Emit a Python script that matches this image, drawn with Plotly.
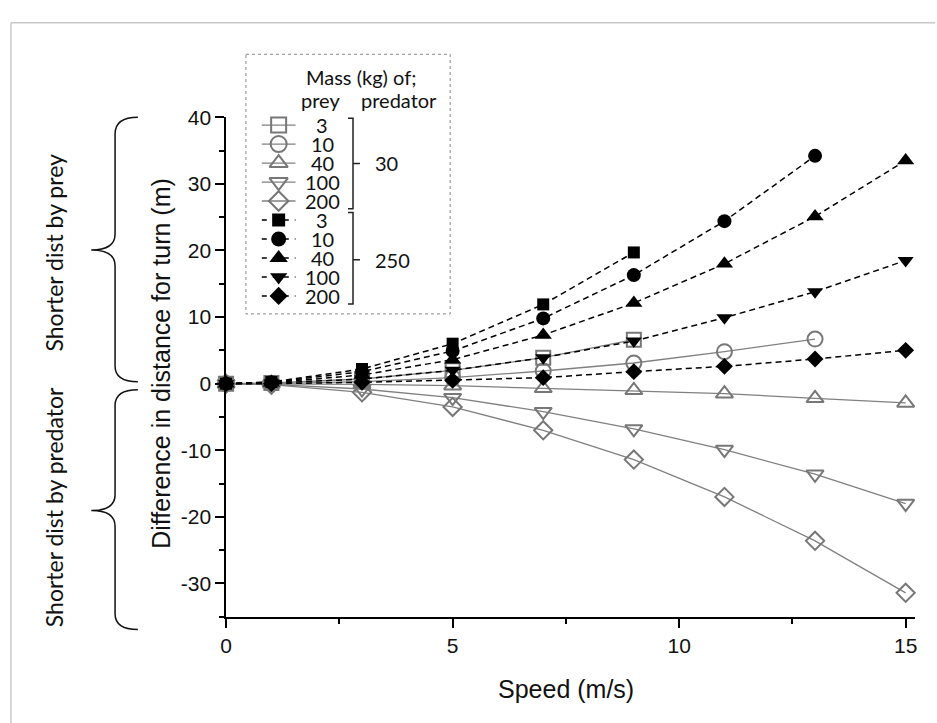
import plotly.graph_objects as go

W, H = 937, 723

# ---------------- data ----------------
speed = [0, 1, 3, 5, 7, 9, 11, 13, 15]
prey_masses = ["3", "10", "40", "100", "200"]
predator_masses = ["30", "250"]

# predator 30 kg (open grey symbols, solid lines)
pred30_prey3 = [0, 0.1, 0.7, 2.0, 3.9, 6.6]
pred30_prey10 = [0, 0.0, 0.3, 0.9, 1.9, 3.1, 4.8, 6.7]
pred30_prey40 = [0, 0.0, -0.1, -0.3, -0.7, -1.0, -1.5, -2.2, -2.9]
pred30_prey100 = [0, -0.1, -0.8, -2.1, -4.2, -6.8, -9.9, -13.6, -18.0]
pred30_prey200 = [0, -0.15, -1.3, -3.5, -7.0, -11.4, -17.0, -23.6, -31.4]

# predator 250 kg (filled black symbols, dashed lines)
pred250_prey3 = [0, 0.25, 2.2, 6.0, 11.9, 19.7]
pred250_prey10 = [0, 0.2, 1.8, 4.9, 9.8, 16.3, 24.4, 34.2]
pred250_prey40 = [0, 0.15, 1.3, 3.6, 7.3, 12.1, 18.0, 25.1, 33.5]
pred250_prey100 = [0, 0.08, 0.7, 2.0, 3.9, 6.4, 9.9, 13.8, 18.5]
pred250_prey200 = [0, 0.0, 0.2, 0.5, 0.9, 1.8, 2.6, 3.7, 5.0]

x_ticks = [0, 5, 10, 15]
x_tick_labels = ["0", "5", "10", "15"]
y_ticks = [-30, -20, -10, 0, 10, 20, 30, 40]
y_tick_labels = ["-30", "-20", "-10", "0", "10", "20", "30", "40"]

# ---------------- styles ----------------
GREY = "#777777"
GREY_LINE = "#808080"
BLACK = "#000000"
open_symbols = ["square-open", "circle-open", "triangle-up-open", "triangle-down-open", "diamond-open"]
open_sizes = [14, 15, 15, 15, 14]
filled_symbols = ["square", "circle", "triangle-up", "triangle-down", "diamond"]
filled_sizes = [12, 14, 15, 14, 13]
DASH = "6px,4px"
LEG_FONT = dict(family="Lato", size=20, color="#111")
SIDE_FONT = dict(family="Lato", size=23, color="#111")
TITLE_FONT = dict(family="Liberation Sans", size=25, color="#111")

series30 = [pred30_prey3, pred30_prey10, pred30_prey40, pred30_prey100, pred30_prey200]
series250 = [pred250_prey3, pred250_prey10, pred250_prey40, pred250_prey100, pred250_prey200]

fig = go.Figure()

for vals, sym, sz, m in zip(series30, open_symbols, open_sizes, prey_masses):
    fig.add_trace(go.Scatter(
        x=speed[:len(vals)], y=vals, mode="lines+markers",
        name=f"prey {m} kg, predator 30 kg",
        line=dict(color=GREY_LINE, width=1.3),
        marker=dict(symbol=sym, size=sz, color=GREY, line=dict(color=GREY, width=2)),
        cliponaxis=False, showlegend=False, xaxis="x", yaxis="y"))

for vals, sym, sz, m in zip(series250, filled_symbols, filled_sizes, prey_masses):
    fig.add_trace(go.Scatter(
        x=speed[:len(vals)], y=vals, mode="lines+markers",
        name=f"prey {m} kg, predator 250 kg",
        line=dict(color=BLACK, width=1.5, dash=DASH),
        marker=dict(symbol=sym, size=sz, color=BLACK, line=dict(width=0)),
        cliponaxis=False, showlegend=False, xaxis="x", yaxis="y"))

# ---------------- legend (drawn in a pixel-coordinate overlay axis) ----------------
row0, drow = 115, 19.3
legend_syms = open_symbols + filled_symbols
legend_sizes = open_sizes + filled_sizes
legend_labels = prey_masses + prey_masses
annotations = []
for i, (sym, sz, lab) in enumerate(zip(legend_syms, legend_sizes, legend_labels)):
    ry = row0 + drow * i
    is_open = i < 5
    fig.add_trace(go.Scatter(
        x=[258, 275, 292], y=[ry, ry, ry], mode="lines+markers",
        line=dict(color=GREY_LINE if is_open else BLACK, width=1.3 if is_open else 1.5,
                  dash="solid" if is_open else "5px,6px"),
        marker=dict(symbol=sym, size=sz + 1, opacity=[0, 1, 0],
                    color=GREY if is_open else BLACK,
                    line=dict(color=GREY, width=2 if is_open else 0)),
        showlegend=False, hoverinfo="skip", xaxis="x3", yaxis="y3"))
    annotations.append(dict(x=319, y=ry, xref="x3", yref="y3", text=lab, showarrow=False,
                            font=LEG_FONT, xanchor="center", yanchor="middle"))

annotations += [
    dict(x=358, y=66, xref="x3", yref="y3", text="Mass (kg) of;", showarrow=False,
         font=LEG_FONT, xanchor="center", yanchor="middle"),
    dict(x=317, y=89, xref="x3", yref="y3", text="prey", showarrow=False,
         font=LEG_FONT, xanchor="center", yanchor="middle"),
    dict(x=396, y=89, xref="x3", yref="y3", text="predator", showarrow=False,
         font=LEG_FONT, xanchor="center", yanchor="middle"),
    dict(x=384, y=154, xref="x3", yref="y3", text=predator_masses[0], showarrow=False,
         font=LEG_FONT, xanchor="center", yanchor="middle"),
    dict(x=390, y=252, xref="x3", yref="y3", text=predator_masses[1], showarrow=False,
         font=LEG_FONT, xanchor="center", yanchor="middle"),
    # axis titles
    dict(x=565, y=688, xref="x3", yref="y3", text="Speed (m/s)", showarrow=False,
         font=TITLE_FONT, xanchor="center", yanchor="middle"),
    dict(x=156, y=357, xref="x3", yref="y3", text="Difference in distance for turn (m)", showarrow=False,
         textangle=-90, font=TITLE_FONT, xanchor="center", yanchor="middle"),
    # side labels
    dict(x=48, y=245, xref="x3", yref="y3", text="Shorter dist by prey", showarrow=False,
         textangle=-90, font=SIDE_FONT, xanchor="center", yanchor="middle"),
    dict(x=48, y=504, xref="x3", yref="y3", text="Shorter dist by predator", showarrow=False,
         textangle=-90, font=SIDE_FONT, xanchor="center", yanchor="middle"),
]

shapes = [
    # outer frame
    dict(type="line", xref="x3", yref="y3", x0=5, y0=11, x1=W, y1=11, line=dict(color="#c8c8c8", width=1.5)),
    dict(type="line", xref="x3", yref="y3", x0=5, y0=11, x1=5, y1=H, line=dict(color="#c8c8c8", width=1.5)),
    # legend box
    dict(type="rect", xref="x3", yref="y3", x0=242, y0=43, x1=448, y1=307,
         line=dict(color="#888888", width=1, dash="dot")),
    # legend brackets
    dict(type="path", xref="x3", yref="y3",
         path="M 345,108 L 350,108 L 350,200 L 345,200 M 350,154 L 357,154",
         line=dict(color="#222", width=1.5)),
    dict(type="path", xref="x3", yref="y3",
         path="M 345,204 L 350,204 L 350,297 L 345,297 M 350,252 L 357,252",
         line=dict(color="#222", width=1.5)),
    # side braces
    dict(type="path", xref="x3", yref="y3",
         path="M 133,107 Q 110,107 110,124 L 110,226 Q 110,242 86,242 Q 110,242 110,258 L 110,360 Q 110,376 133,376",
         line=dict(color="#111", width=1.5)),
    dict(type="path", xref="x3", yref="y3",
         path="M 133,384 Q 110,384 110,400 L 110,491 Q 110,507 86,507 Q 110,507 110,523 L 110,612 Q 110,628 133,628",
         line=dict(color="#111", width=1.5)),
]

tickfont = dict(family="Liberation Sans", size=21, color="#111")

fig.update_layout(
    width=W, height=H,
    margin=dict(l=0, r=0, t=0, b=0),
    paper_bgcolor="white", plot_bgcolor="rgba(0,0,0,0)",
    showlegend=False,
    xaxis=dict(domain=[222 / W, 917 / W], range=[0, 15.21], anchor="y",
               showline=True, linecolor="black", linewidth=1.5,
               ticks="outside", ticklen=9, tickwidth=1.5, tickcolor="black",
               tickvals=x_ticks, ticktext=x_tick_labels, tickfont=tickfont,
               showgrid=False, zeroline=False,
               minor=dict(dtick=2.5, tick0=0, ticks="outside", ticklen=5, tickwidth=1.5,
                          tickcolor="black", showgrid=False)),
    yaxis=dict(domain=[(H - 615) / H, (H - 107) / H], range=[-35, 40], anchor="x",
               showline=True, linecolor="black", linewidth=1.5,
               ticks="outside", ticklen=9, tickwidth=1.5, tickcolor="black",
               tickvals=y_ticks, ticktext=y_tick_labels, tickfont=tickfont,
               showgrid=False, zeroline=False,
               minor=dict(dtick=5, tick0=0, ticks="outside", ticklen=5, tickwidth=1.5,
                          tickcolor="black", showgrid=False)),
    xaxis3=dict(domain=[0, 1], range=[0, W], visible=False, anchor="y3", fixedrange=True),
    yaxis3=dict(domain=[0, 1], range=[H, 0], visible=False, anchor="x3", fixedrange=True),
    annotations=annotations,
    shapes=shapes,
)

fig.write_html("out.html", config={"displayModeBar": False},
               post_script="document.body.style.margin='0';document.body.style.overflow='hidden';")
